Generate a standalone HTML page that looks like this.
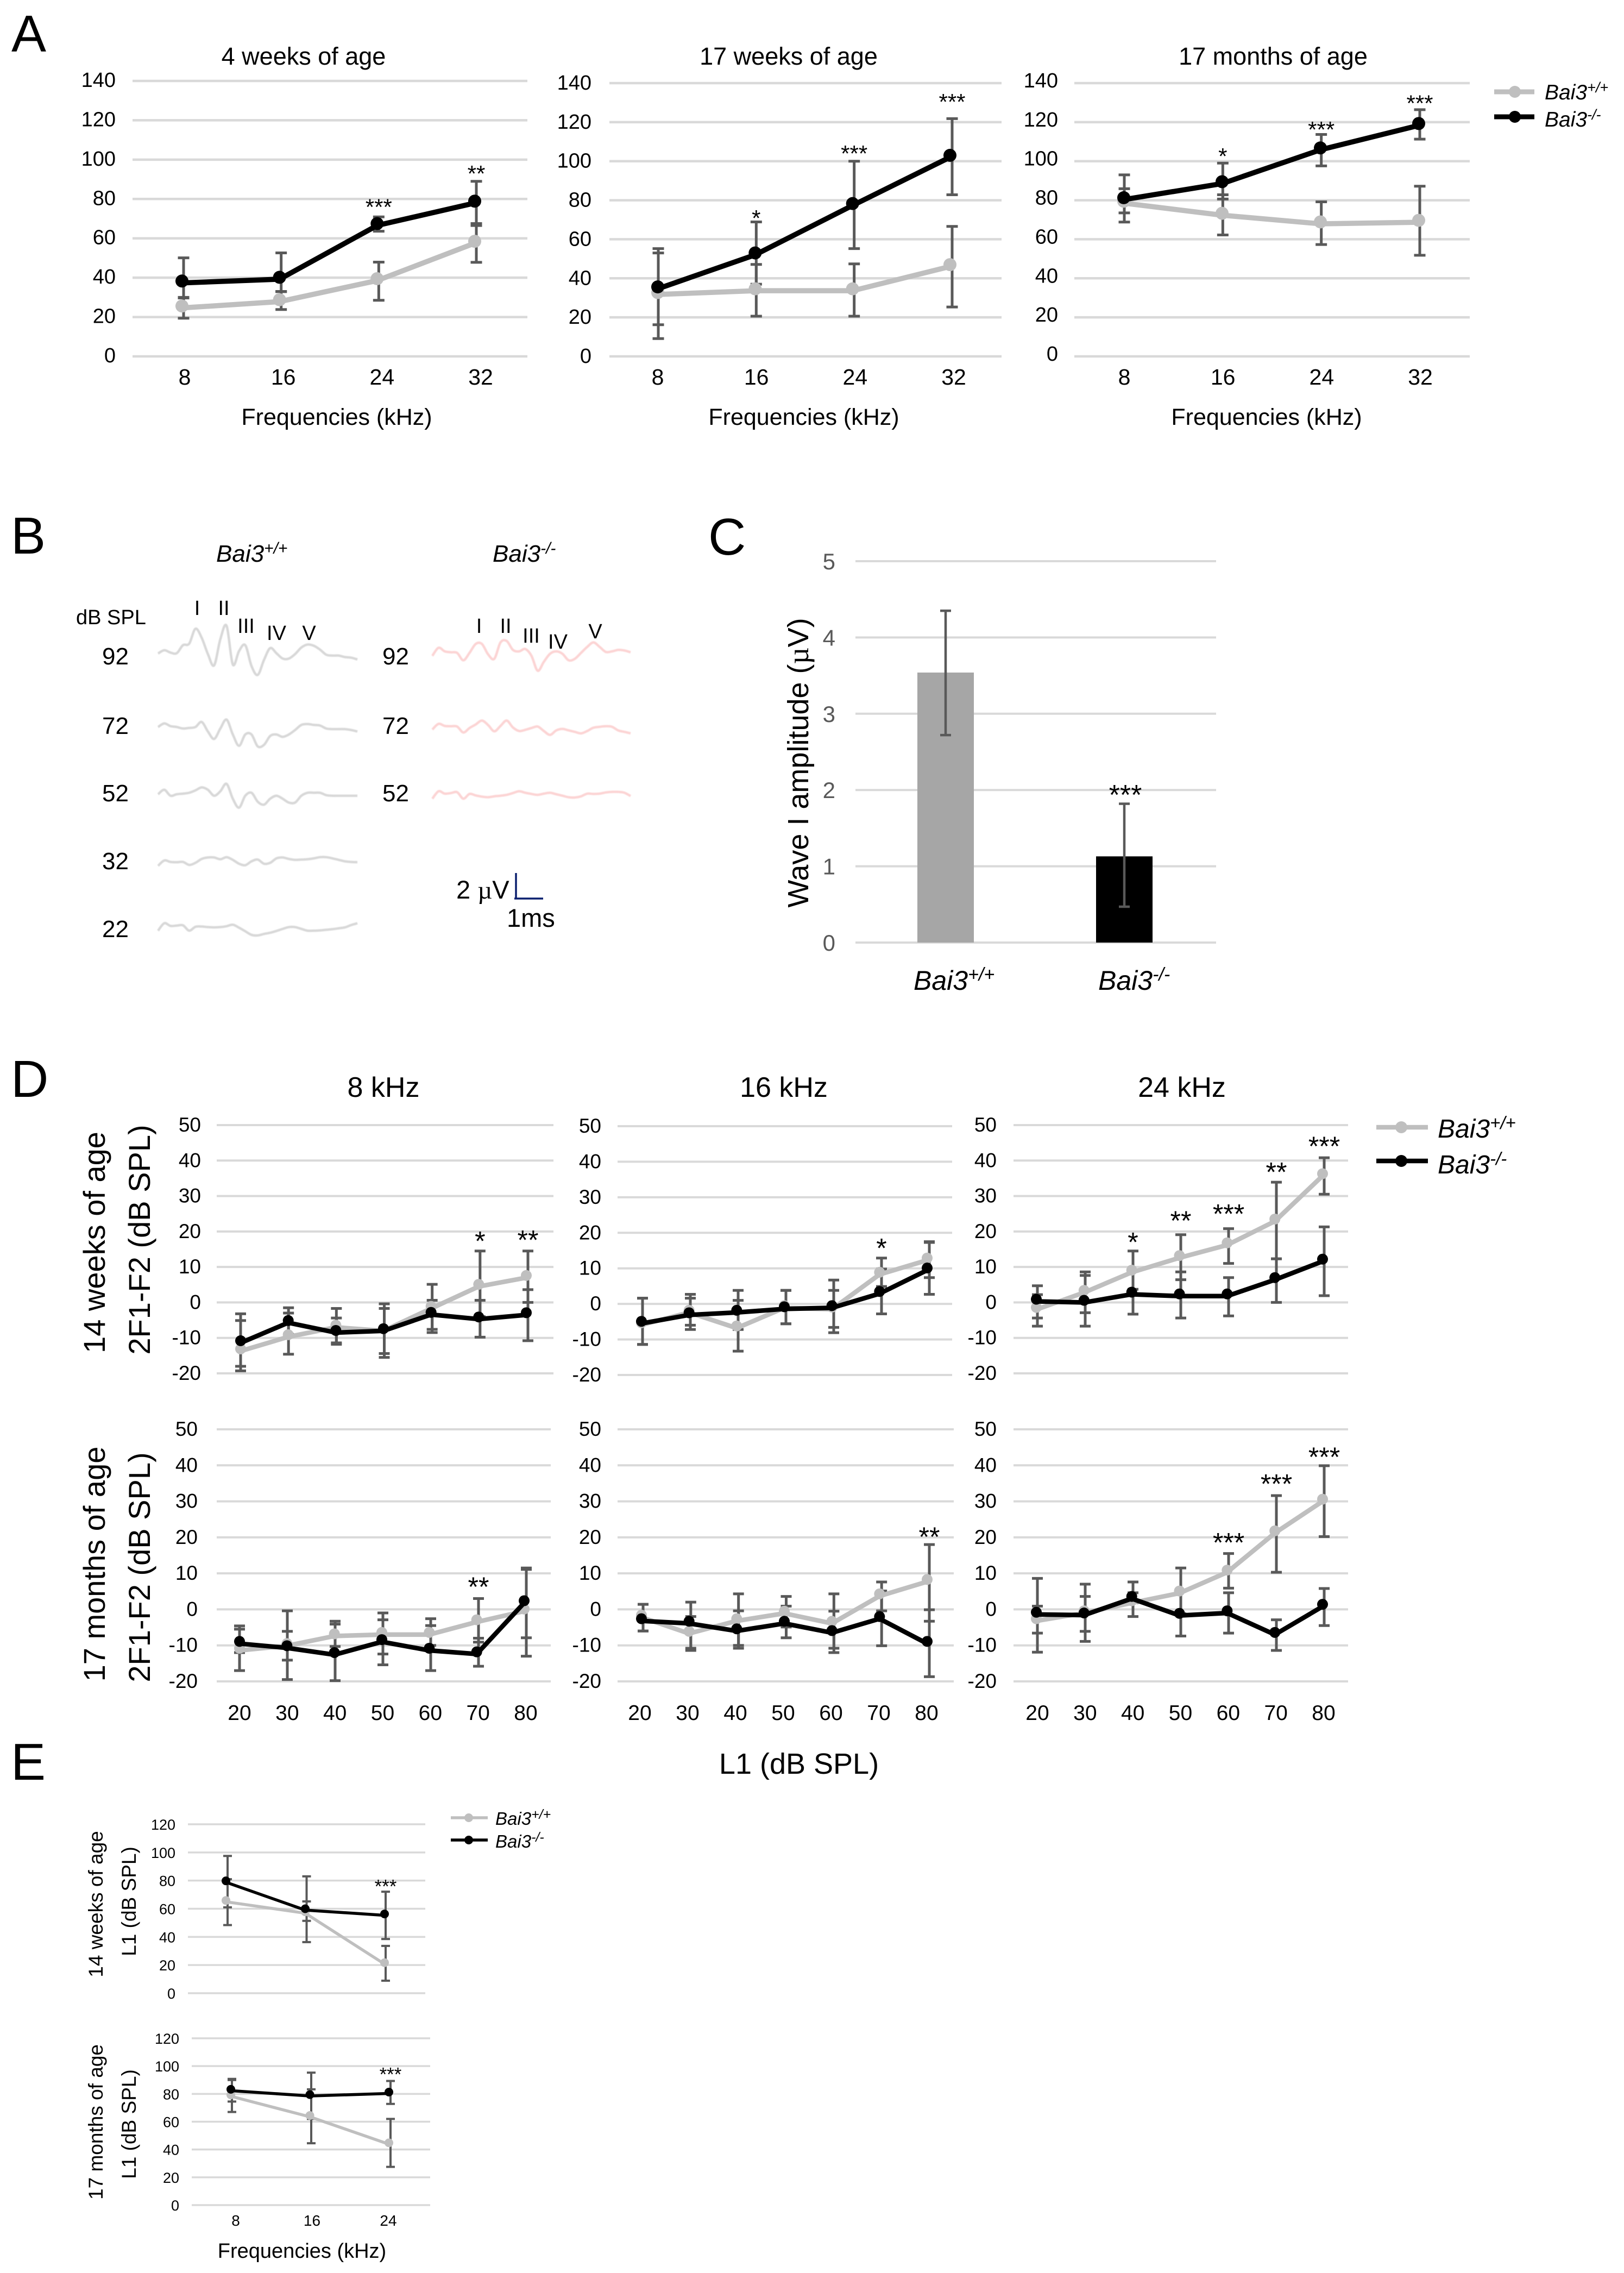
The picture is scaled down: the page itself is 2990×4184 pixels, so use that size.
<!DOCTYPE html>
<html lang="en">
<head>
<meta charset="utf-8">
<title>Bai3 auditory phenotype figure</title>
<style>
html,body{margin:0;padding:0;background:#fff;}
svg{display:block;font-family:"Liberation Sans",sans-serif;}
text{fill:#000;}
.it{font-style:italic;}
</style>
</head>
<body>
<svg id="figure" xmlns="http://www.w3.org/2000/svg" width="2990" height="4184" viewBox="0 0 2990 4184">
<rect width="2990" height="4184" fill="#fff"/>

<!-- panel letters -->
<text x="21" y="95" font-size="96">A</text>
<text x="20" y="1019" font-size="96">B</text>
<text x="1304" y="1021" font-size="96">C</text>
<text x="20" y="2019" font-size="96">D</text>
<text x="20" y="3276" font-size="96">E</text>

<!-- panel A text -->
<text x="559" y="119" font-size="45" text-anchor="middle">4 weeks of age</text>
<text x="1452" y="119" font-size="45" text-anchor="middle">17 weeks of age</text>
<text x="2344" y="119" font-size="45" text-anchor="middle">17 months of age</text>
<text x="620" y="782" font-size="43" text-anchor="middle">Frequencies (kHz)</text>
<text x="1480" y="782" font-size="43" text-anchor="middle">Frequencies (kHz)</text>
<text x="2332" y="782" font-size="43" text-anchor="middle">Frequencies (kHz)</text>
<g>
  <line x1="2751" x2="2825" y1="169" y2="169" stroke="#bfbfbf" stroke-width="9"/>
  <circle cx="2789" cy="169" r="11" fill="#bfbfbf"/>
  <text class="it" x="2844" y="183" font-size="39">Bai3<tspan dy="-13" font-size="27">+/+</tspan></text>
  <line x1="2751" x2="2825" y1="215" y2="215" stroke="#000" stroke-width="9"/>
  <circle cx="2789" cy="215" r="11" fill="#000"/>
  <text class="it" x="2844" y="233" font-size="39">Bai3<tspan dy="-13" font-size="27">-/-</tspan></text>
</g>

<!-- panel B text -->
<text class="it" x="398" y="1034" font-size="44">Bai3<tspan dy="-15" font-size="30">+/+</tspan></text>
<text class="it" x="907" y="1034" font-size="44">Bai3<tspan dy="-15" font-size="30">-/-</tspan></text>
<text x="140" y="1149" font-size="38">dB SPL</text>
<g font-size="44">
  <text x="188" y="1223">92</text>
  <text x="188" y="1351">72</text>
  <text x="188" y="1475">52</text>
  <text x="188" y="1600">32</text>
  <text x="188" y="1725">22</text>
  <text x="704" y="1223">92</text>
  <text x="704" y="1351">72</text>
  <text x="704" y="1475">52</text>
</g>
<g font-size="38" text-anchor="middle">
  <text x="363" y="1132">I</text>
  <text x="412" y="1132">II</text>
  <text x="453" y="1165">III</text>
  <text x="509" y="1178">IV</text>
  <text x="569" y="1178">V</text>
  <text x="882" y="1165">I</text>
  <text x="931" y="1165">II</text>
  <text x="978" y="1183">III</text>
  <text x="1027" y="1194">IV</text>
  <text x="1096" y="1175">V</text>
</g>
<g>
  <line x1="950" x2="950" y1="1607" y2="1654" stroke="#0a1f6e" stroke-width="3.5"/>
  <line x1="947" x2="1000" y1="1654" y2="1654" stroke="#0a1f6e" stroke-width="3.5"/>
  <text x="840" y="1654" font-size="47">2 <tspan font-family="'Liberation Serif',serif">µ</tspan>V</text>
  <text x="933" y="1706" font-size="47">1ms</text>
</g>

<!-- panel C text -->
<text transform="translate(1488,1404) rotate(-90)" font-size="54" text-anchor="middle">Wave I amplitude (<tspan font-family="'Liberation Serif',serif">µ</tspan>V)</text>

<!-- panel D text -->
<text x="706" y="2019" font-size="52" text-anchor="middle">8 kHz</text>
<text x="1443" y="2019" font-size="52" text-anchor="middle">16 kHz</text>
<text x="2176" y="2019" font-size="52" text-anchor="middle">24 kHz</text>
<text transform="translate(193,2287) rotate(-90)" font-size="56" text-anchor="middle">14 weeks of age</text>
<text transform="translate(276,2282) rotate(-90)" font-size="56" text-anchor="middle">2F1-F2 (dB SPL)</text>
<text transform="translate(193,2879) rotate(-90)" font-size="56" text-anchor="middle">17 months of age</text>
<text transform="translate(276,2885) rotate(-90)" font-size="56" text-anchor="middle">2F1-F2 (dB SPL)</text>
<text x="1471" y="3265" font-size="54" text-anchor="middle">L1 (dB SPL)</text>
<g>
  <line x1="2534" x2="2629" y1="2075" y2="2075" stroke="#bfbfbf" stroke-width="8.5"/>
  <circle cx="2580" cy="2075" r="11" fill="#bfbfbf"/>
  <text class="it" x="2647" y="2094" font-size="48">Bai3<tspan dy="-16" font-size="33">+/+</tspan></text>
  <line x1="2534" x2="2629" y1="2137" y2="2137" stroke="#000" stroke-width="8.5"/>
  <circle cx="2580" cy="2137" r="11" fill="#000"/>
  <text class="it" x="2647" y="2160" font-size="48">Bai3<tspan dy="-16" font-size="33">-/-</tspan></text>
</g>

<!-- panel E text -->
<text transform="translate(189,3505) rotate(-90)" font-size="37" text-anchor="middle">14 weeks of age</text>
<text transform="translate(250,3500) rotate(-90)" font-size="37" text-anchor="middle">L1 (dB SPL)</text>
<text transform="translate(189,3906) rotate(-90)" font-size="37" text-anchor="middle">17 months of age</text>
<text transform="translate(250,3910) rotate(-90)" font-size="37" text-anchor="middle">L1 (dB SPL)</text>
<text x="556" y="4156" font-size="38" text-anchor="middle">Frequencies (kHz)</text>
<g>
  <line x1="830" x2="898" y1="3346" y2="3346" stroke="#bfbfbf" stroke-width="5.5"/>
  <circle cx="863" cy="3346" r="8" fill="#bfbfbf"/>
  <text class="it" x="912" y="3359" font-size="33">Bai3<tspan dy="-11" font-size="25">+/+</tspan></text>
  <line x1="830" x2="898" y1="3387" y2="3387" stroke="#000" stroke-width="5.5"/>
  <circle cx="863" cy="3387" r="8" fill="#000"/>
  <text class="it" x="912" y="3401" font-size="33">Bai3<tspan dy="-11" font-size="25">-/-</tspan></text>
</g>
</svg>

<script>
/* ---------- shared categories and tick labels ---------- */
const freqCats = ['8','16','24','32'];
const freqCatsE = ['8','16','24'];
const levelCats = ['20','30','40','50','60','70','80'];
const aTicks = [0,20,40,60,80,100,120,140];
const dTicks = [-20,-10,0,10,20,30,40,50];
const eTicks = [0,20,40,60,80,100,120];
const cTicks = [0,1,2,3,4,5];

/* ---------- panel A ---------- */
const a1WtMean = [25.6,28.8,39.5,58.5];
const a1WtHi   = [30,33,47.9,66.5];
const a1WtLo   = [19.4,23.8,28.5,47.8];
const a1KoMean = [38.3,40.2,67.5,78.9];
const a1KoHi   = [50.1,52.6,70.9,89];
const a1KoLo   = [29.7,32.9,63.6,67.5];
const a1Stars  = ['','','***','**'];
const a1StarAt = [0,0,77.9,95];

const a2WtMean = [32.7,34.6,34.6,47];
const a2WtHi   = [53,47.1,47.4,66.6];
const a2WtLo   = [9.1,20.6,20.6,25.3];
const a2KoMean = [35.6,53,78.3,103];
const a2KoHi   = [55.2,68.9,100,121.8];
const a2KoLo   = [16.2,37,55.2,82.8];
const a2Stars  = ['','*','***','***'];
const a2StarAt = [0,72.9,106,132.5];

const a3WtMean = [79.5,73.3,68.9,69.7];
const a3WtHi   = [85.9,82.8,79.2,87.2];
const a3WtLo   = [73.5,62.2,57.3,51.8];
const a3KoMean = [81.3,89.5,106.8,119.3];
const a3KoHi   = [93,99,113.7,126.4];
const a3KoLo   = [68.8,80.6,97.6,111.3];
const a3Stars  = ['','*','***','***'];
const a3StarAt = [0,104.6,118.3,131.8];

/* ---------- panel B traces (amplitude samples, arbitrary units) ---------- */
const wt92Amp = [2,13,5,3,30,35,85,55,0,-38,50,95,-35,10,30,-40,-70,-20,20,3,-15,-15,0,22,32,28,15,-2,-5,-5,-10,-12,-18];
const wt72Amp = [5,17,8,5,0,2,5,22,-10,-35,0,30,-20,-58,-20,-20,-60,-55,-25,-20,-28,-20,-5,12,15,12,10,0,-2,-2,-2,-5,-10];
const wt52Amp = [0,15,-5,0,2,5,13,23,15,-5,10,35,-15,-45,-5,5,-25,-35,-15,-5,-15,-28,-28,-5,5,5,5,-3,-5,-5,-5,-5,-5];
const wt32Amp = [-15,3,-2,-3,-2,-12,-5,8,13,13,7,14,5,-8,-13,0,6,-8,-5,10,13,8,5,6,7,10,14,14,10,5,0,-2,-3];
const wt22Amp = [-13,12,3,4,5,-13,0,1,-1,-2,-1,2,7,-3,-15,-27,-29,-24,-20,-14,-7,-1,-1,-7,-13,-13,-12,-10,-8,-5,-2,6,12];
const ko92Amp = [-15,12,0,-3,-5,-30,-5,25,25,-10,-25,30,35,5,0,8,-15,-65,-35,-8,0,-8,-30,-25,-5,15,30,15,-2,0,5,3,-3];
const ko72Amp = [-7,12,5,4,3,-17,-2,10,23,8,-13,5,23,0,-12,-8,-2,3,-12,-25,-10,-5,-10,-15,-20,-12,-1,2,4,2,-10,-15,-20];
const ko52Amp = [-15,10,2,4,7,-15,1,-4,-8,-10,-7,-5,-2,4,10,5,1,-2,2,5,0,-5,-10,-11,-7,2,1,2,6,8,8,5,-6];

/* ---------- panel C ---------- */
const cCats = ['+/+','-/-'];
const cMeans = [3.54,1.13];
const cHi = [4.35,1.82];
const cLo = [2.72,0.47];
const cStars = ['','***'];
const cStarAt = [0,2.0];

/* ---------- panel D: 14 weeks ---------- */
const d8tWtMean = [-13.1,-9.1,-6.4,-7.4,-1.1,5.1,7.6];
const d8tWtHi   = [-5.1,-3,-1.7,-1.7,5.1,14.5,14.5];
const d8tWtLo   = [-19.3,-14.6,-11.8,-15.5,-7.6,-4,0];
const d8tKoMean = [-10.8,-5.1,-7.9,-7.4,-2.8,-4.1,-2.9];
const d8tKoHi   = [-3.2,-1.5,-4.4,-0.4,0.6,0.6,3.6];
const d8tKoLo   = [-18,-9,-11.4,-14.4,-8.5,-9.8,-10.8];
const d8tStars  = ['','','','','','*','**'];
const d8tStarAt = [0,0,0,0,0,18.7,19];

const d16tWtMean = [-5.3,-1.8,-6.2,-0.5,-0.9,8.9,12.9];
const d16tWtHi   = [1.6,2.7,1,3.8,6.7,12.9,17.5];
const d16tWtLo   = [-11.4,-6,-13.3,-5.6,-8.1,4.9,7.4];
const d16tKoMean = [-4.9,-2.5,-1.8,-0.8,-0.5,3.5,10.1];
const d16tKoHi   = [1.6,1.6,3.8,3.8,3.8,9.8,17.3];
const d16tKoLo   = [-11.4,-7.2,-7.2,-5.6,-6.6,-2.8,2.7];
const d16tStars  = ['','','','','','*',''];
const d16tStarAt = [0,0,0,0,0,17.1,0];

const d24tWtMean = [-1.4,3.4,9.1,13.2,16.8,23.5,36.3];
const d24tWtHi   = [2.2,8.6,14.5,19.1,20.8,33.9,40.8];
const d24tWtLo   = [-6.7,-2.9,3.7,6.4,11,12.3,30.5];
const d24tKoMean = [0.9,0.6,2.9,2.4,2.4,7,12.2];
const d24tKoHi   = [4.7,7.6,9,8.6,7,12.3,21.3];
const d24tKoLo   = [-4.4,-6.7,-3.3,-4.4,-3.8,0,1.9];
const d24tStars  = ['','','*','**','***','**','***'];
const d24tStarAt = [0,0,18.4,24.4,26.3,38.1,45.4];

/* ---------- panel D: 17 months ---------- */
const d8bWtMean = [-10.8,-9.5,-6.8,-6.4,-6.4,-2.9,0.1];
const d8bWtHi   = [-4.6,-0.4,-3.3,-1,-2.6,3,11.1];
const d8bWtLo   = [-17,-19.5,-10.3,-12.4,-10,-9.1,-13];
const d8bKoMean = [-8.9,-10.1,-12,-8.4,-10.8,-11.8,2.4];
const d8bKoHi   = [-5.5,-6.1,-4.1,-2.9,-4.5,-8,11.5];
const d8bKoLo   = [-12,-14.1,-19.8,-15.4,-17,-15.8,-7.9];
const d8bStars  = ['','','','','','**',''];
const d8bStarAt = [0,0,0,0,0,7.6,0];

const d16bWtMean = [-1.6,-6.1,-2.6,-0.5,-3.3,4.3,8.3];
const d16bWtHi   = [1.4,-2,4.3,3.6,4.3,7.6,18];
const d16bWtLo   = [-6,-11.4,-10,-4.9,-10.8,-0.4,-3.3];
const d16bKoMean = [-2.6,-3.3,-5.4,-3.3,-5.9,-2,-8.9];
const d16bKoHi   = [1.4,2,-0.4,0.9,-0.5,5.1,-0.1];
const d16bKoLo   = [-6,-10.8,-10.8,-7.9,-12,-10.1,-18.7];
const d16bStars  = ['','','','','','','**'];
const d16bStarAt = [0,0,0,0,0,0,21.5];

const d24bWtMean = [-2.6,-0.4,2.4,5.1,10.9,21.8,30.6];
const d24bWtHi   = [0.9,3.6,4.6,11.5,15.5,31.6,39.9];
const d24bWtLo   = [-6.6,-6.1,-2,-1.2,5.9,10.3,20.2];
const d24bKoMean = [-0.8,-1,3.6,-1.1,-0.4,-6.4,1.4];
const d24bKoHi   = [8.6,7,7.6,5,4.6,-2.9,5.8];
const d24bKoLo   = [-11.9,-8.9,1.8,-7.4,-6.6,-11.4,-4.5];
const d24bStars  = ['','','','','***','***','***'];
const d24bStarAt = [0,0,0,0,19.9,36.2,43.7];

/* ---------- panel E ---------- */
const e1WtMean = [65.9,57.8,21.7];
const e1WtHi   = [81,65.2,33.6];
const e1WtLo   = [48.4,51.4,8.9];
const e1KoMean = [79.8,60,56.3];
const e1KoHi   = [97.5,83,72.1];
const e1KoLo   = [61,36.3,38.5];
const e1Stars  = ['','','***'];
const e1StarAt = [0,0,78.3];

const e2WtMean = [79.3,64.5,44.8];
const e2WtHi   = [90,83.3,62];
const e2WtLo   = [67,44.5,27.5];
const e2KoMean = [83.3,79.5,81.3];
const e2KoHi   = [90.8,95.3,89.3];
const e2KoLo   = [74.5,62,72.8];
const e2Stars  = ['','','***'];
const e2StarAt = [0,0,96.5];

/* ---------- helpers ---------- */
const NS = 'http://www.w3.org/2000/svg';
const fig = document.getElementById('figure');
const GRID = '#d9d9d9', ERR = '#595959', WT = '#bfbfbf', KO = '#000000';

function mk(parent, tag, attrs, txt) {
  const el = document.createElementNS(NS, tag);
  for (const k in attrs) el.setAttribute(k, attrs[k]);
  if (txt !== undefined) el.textContent = txt;
  parent.appendChild(el);
  return el;
}
function linear(d0, d1, r0, r1) {
  return v => r0 + (v - d0) * (r1 - r0) / (d1 - d0);
}
function catScale(range, n) {
  return i => range[0] + i * (range[1] - range[0]) / (n - 1);
}

function drawSeries(g, name, c, xP, y, mean, color) {
  const pts = mean.map((v, i) => xP(i) + ',' + (y(v) + c.s.lineDy)).join(' ');
  const pl = mk(g, 'polyline', {points: pts, fill: 'none', stroke: color, 'stroke-width': c.s.line, 'stroke-linejoin': 'round'});
  
  
  mean.forEach((v, i) => {
    const dot = mk(g, 'circle', {cx: xP(i), cy: y(v), r: c.s.r, fill: color});
    
    
  });
}
function drawErrors(g, name, c, xE, y, hi, lo) {
  hi.forEach((h, i) => {
    const x = xE(i), yh = y(h), yl = y(lo[i]), w = c.s.cap / 2;
    const stem = mk(g, 'line', {x1: x, x2: x, y1: yh, y2: yl, stroke: ERR, 'stroke-width': c.s.err});
    
    
    const capT = mk(g, 'line', {x1: x - w, x2: x + w, y1: yh, y2: yh, stroke: ERR, 'stroke-width': c.s.err});
    
    
    const capB = mk(g, 'line', {x1: x - w, x2: x + w, y1: yl, y2: yl, stroke: ERR, 'stroke-width': c.s.err});
    
    
  });
}

function drawLineChart(c) {
  const g = mk(fig, 'g', {});
  
  
  const n = c.wt.length;
  const y = linear(c.vMin, c.vMax, c.yBottom, c.yTop);
  const xP = catScale(c.px, n), xE = catScale(c.ex, n), xT = catScale(c.tx, n);
  const tickDy = c.tickDy === undefined ? c.s.tickDy : c.tickDy;
  c.ticks.forEach(t => {
    const gl = mk(g, 'line', {x1: c.left, x2: c.right, y1: y(t), y2: y(t), stroke: GRID, 'stroke-width': c.s.grid});
    
    
    const lb = mk(g, 'text', {x: c.tickRight, y: y(t) + tickDy, 'font-size': c.s.tick, 'text-anchor': 'end'}, String(t));
    
    
  });
  if (c.xTickY) {
    c.cats.forEach((t, i) => {
      const lb = mk(g, 'text', {x: xT(i), y: c.xTickY, 'font-size': c.s.xt, 'text-anchor': 'middle'}, t);
      
      
    });
  }
  drawErrors(g, 'wt', c, xE, y, c.wtHi, c.wtLo);
  drawErrors(g, 'ko', c, xE, y, c.koHi, c.koLo);
  drawSeries(g, 'wt', c, xP, y, c.wt, WT);
  drawSeries(g, 'ko', c, xP, y, c.ko, KO);
  c.stars.forEach((s, i) => {
    if (!s) return;
    const st = mk(g, 'text', {x: xE(i), y: y(c.starAt[i]) + c.s.star * 0.52, 'font-size': c.s.star, 'text-anchor': 'middle'}, s);
    
    
  });
}

/* smooth path through evenly spaced samples */
function drawTrace(name, amps, xStart, xEnd, base, color) {
  const x = catScale([xStart, xEnd], amps.length);
  const unit = 1 / 1.823;
  const p = amps.map((a, i) => [x(i), base - a * unit]);
  let d = 'M' + p[0][0] + ' ' + p[0][1];
  for (let i = 0; i < p.length - 1; i++) {
    const p0 = p[Math.max(i - 1, 0)], p1 = p[i], p2 = p[i + 1], p3 = p[Math.min(i + 2, p.length - 1)];
    const c1x = p1[0] + (p2[0] - p0[0]) / 6, c1y = p1[1] + (p2[1] - p0[1]) / 6;
    const c2x = p2[0] - (p3[0] - p1[0]) / 6, c2y = p2[1] - (p3[1] - p1[1]) / 6;
    d += 'C' + c1x + ' ' + c1y + ' ' + c2x + ' ' + c2y + ' ' + p2[0] + ' ' + p2[1];
  }
  const tr = mk(fig, 'path', {d: d, fill: 'none', stroke: color, 'stroke-width': 4.5, 'stroke-linejoin': 'round', style: 'filter:blur(0.8px)'});
  
  
}

/* ---------- styles per panel ---------- */
const styleA = {grid:4.5, line:9.5, r:12, err:5, cap:21, tick:38, xt:41, star:42, lineDy:3.5, tickDy:12};
const styleD = {grid:4, line:8.5, r:10, err:5, cap:20, tick:37, xt:39, star:50, lineDy:4, tickDy:12};
const styleE = {grid:3.5, line:5.5, r:8, err:4, cap:16, tick:27, xt:28, star:35, lineDy:2.5, tickDy:10};

/* ---------- panel A charts ---------- */
drawLineChart({name:'chart-a-4-weeks', s:styleA, cats:freqCats, ticks:aTicks, vMin:0, vMax:140, yBottom:656, yTop:149, left:244, right:971, tickRight:213, tickDy:11, px:[335,874], ex:[338,877], tx:[340,885], xTickY:708,
  wt:a1WtMean, wtHi:a1WtHi, wtLo:a1WtLo, ko:a1KoMean, koHi:a1KoHi, koLo:a1KoLo, stars:a1Stars, starAt:a1StarAt});
drawLineChart({name:'chart-a-17-weeks', s:styleA, cats:freqCats, ticks:aTicks, vMin:0, vMax:140, yBottom:656, yTop:153, left:1122, right:1844, tickRight:1089, px:[1211,1749], ex:[1212,1753], tx:[1211,1756], xTickY:708,
  wt:a2WtMean, wtHi:a2WtHi, wtLo:a2WtLo, ko:a2KoMean, koHi:a2KoHi, koLo:a2KoLo, stars:a2Stars, starAt:a2StarAt});
drawLineChart({name:'chart-a-17-months', s:styleA, cats:freqCats, ticks:aTicks, vMin:0, vMax:140, yBottom:656, yTop:153, left:1978, right:2706, tickRight:1948, tickDy:8, px:[2069,2612], ex:[2070,2614], tx:[2070,2615], xTickY:708,
  wt:a3WtMean, wtHi:a3WtHi, wtLo:a3WtLo, ko:a3KoMean, koHi:a3KoHi, koLo:a3KoLo, stars:a3Stars, starAt:a3StarAt});

/* ---------- panel B traces ---------- */
drawTrace('abr-trace-wt-92', wt92Amp, 291, 658, 1204, '#d8d8d8');
drawTrace('abr-trace-wt-72', wt72Amp, 291, 658, 1341, '#d8d8d8');
drawTrace('abr-trace-wt-52', wt52Amp, 291, 658, 1462, '#d8d8d8');
drawTrace('abr-trace-wt-32', wt32Amp, 291, 658, 1585.5, '#d8d8d8');
drawTrace('abr-trace-wt-22', wt22Amp, 291, 658, 1706, '#d8d8d8');
drawTrace('abr-trace-ko-92', ko92Amp, 796, 1161, 1199, '#fcd4d4');
drawTrace('abr-trace-ko-72', ko72Amp, 796, 1161, 1339, '#fcd4d4');
drawTrace('abr-trace-ko-52', ko52Amp, 796, 1161, 1462, '#fcd4d4');

/* ---------- panel C bar chart ---------- */
(function () {
  const g = mk(fig, 'g', {});
  
  
  const y = linear(0, 5, 1735, 1033);
  const x = catScale([1741, 2070], cMeans.length);
  cTicks.forEach(t => {
    const gl = mk(g, 'line', {x1: 1575, x2: 2239, y1: y(t), y2: y(t), stroke: GRID, 'stroke-width': 4});
    
    
    const lb = mk(g, 'text', {x: 1538, y: y(t) + 15, 'font-size': 42, 'text-anchor': 'end', style: 'fill:#595959'}, String(t));
    
    
  });
  const barColors = ['#a6a6a6', '#000000'];
  cMeans.forEach((v, i) => {
    const bar = mk(g, 'rect', {x: x(i) - 52, y: y(v), width: 104, height: y(0) - y(v), fill: barColors[i]});
    
    
    const stem = mk(g, 'line', {x1: x(i), x2: x(i), y1: y(cHi[i]), y2: y(cLo[i]), stroke: ERR, 'stroke-width': 4.5});
    
    
    const capT = mk(g, 'line', {x1: x(i) - 10, x2: x(i) + 10, y1: y(cHi[i]), y2: y(cHi[i]), stroke: ERR, 'stroke-width': 4.5});
    
    
    const capB = mk(g, 'line', {x1: x(i) - 10, x2: x(i) + 10, y1: y(cLo[i]), y2: y(cLo[i]), stroke: ERR, 'stroke-width': 4.5});
    
    
    const lb = mk(g, 'text', {x: x(i) - 59 + i * 11, y: 1822, 'font-size': 50, 'font-style': 'italic'}, 'Bai3');
    
    
    mk(lb, 'tspan', {dy: -17, 'font-size': 34}, cCats[i]);
    if (cStars[i]) {
      const st = mk(g, 'text', {x: x(i) + 2, y: y(cStarAt[i]) + 27, 'font-size': 52, 'text-anchor': 'middle'}, cStars[i]);
      
      
    }
  });
})();

/* ---------- panel D charts ---------- */
drawLineChart({name:'chart-d-8khz-14-weeks', s:styleD, cats:levelCats, ticks:dTicks, vMin:-20, vMax:50, yBottom:2528, yTop:2071, left:399, right:1019, tickRight:370, px:[443,969], ex:[443,972], tx:[441,968], xTickY:0,
  wt:d8tWtMean, wtHi:d8tWtHi, wtLo:d8tWtLo, ko:d8tKoMean, koHi:d8tKoHi, koLo:d8tKoLo, stars:d8tStars, starAt:d8tStarAt});
drawLineChart({name:'chart-d-16khz-14-weeks', s:styleD, cats:levelCats, ticks:dTicks, vMin:-20, vMax:50, yBottom:2531, yTop:2073, left:1137, right:1753, tickRight:1107, px:[1181,1707], ex:[1183,1711], tx:[1178,1706], xTickY:0,
  wt:d16tWtMean, wtHi:d16tWtHi, wtLo:d16tWtLo, ko:d16tKoMean, koHi:d16tKoHi, koLo:d16tKoLo, stars:d16tStars, starAt:d16tStarAt});
drawLineChart({name:'chart-d-24khz-14-weeks', s:styleD, cats:levelCats, ticks:dTicks, vMin:-20, vMax:50, yBottom:2528, yTop:2071, left:1866, right:2482, tickRight:1835, px:[1908,2435], ex:[1910,2438], tx:[1910,2437], xTickY:0,
  wt:d24tWtMean, wtHi:d24tWtHi, wtLo:d24tWtLo, ko:d24tKoMean, koHi:d24tKoHi, koLo:d24tKoLo, stars:d24tStars, starAt:d24tStarAt});
drawLineChart({name:'chart-d-8khz-17-months', s:styleD, cats:levelCats, ticks:dTicks, vMin:-20, vMax:50, yBottom:3095, yTop:2631, left:399, right:1014, tickRight:364, px:[441,965], ex:[441,969], tx:[441,968], xTickY:3166,
  wt:d8bWtMean, wtHi:d8bWtHi, wtLo:d8bWtLo, ko:d8bKoMean, koHi:d8bKoHi, koLo:d8bKoLo, stars:d8bStars, starAt:d8bStarAt});
drawLineChart({name:'chart-d-16khz-17-months', s:styleD, cats:levelCats, ticks:dTicks, vMin:-20, vMax:50, yBottom:3095, yTop:2631, left:1137, right:1756, tickRight:1107, px:[1181,1707], ex:[1184,1711], tx:[1178,1706], xTickY:3166,
  wt:d16bWtMean, wtHi:d16bWtHi, wtLo:d16bWtLo, ko:d16bKoMean, koHi:d16bKoHi, koLo:d16bKoLo, stars:d16bStars, starAt:d16bStarAt});
drawLineChart({name:'chart-d-24khz-17-months', s:styleD, cats:levelCats, ticks:dTicks, vMin:-20, vMax:50, yBottom:3095, yTop:2631, left:1866, right:2482, tickRight:1835, px:[1908,2435], ex:[1910,2438], tx:[1910,2437], xTickY:3166,
  wt:d24bWtMean, wtHi:d24bWtHi, wtLo:d24bWtLo, ko:d24bKoMean, koHi:d24bKoHi, koLo:d24bKoLo, stars:d24bStars, starAt:d24bStarAt});

/* ---------- panel E charts ---------- */
drawLineChart({name:'chart-e-14-weeks', s:styleE, cats:freqCatsE, ticks:eTicks, vMin:0, vMax:120, yBottom:3669, yTop:3358, left:346, right:783, tickRight:323, px:[416,708], ex:[419,710], tx:[434,715], xTickY:0,
  wt:e1WtMean, wtHi:e1WtHi, wtLo:e1WtLo, ko:e1KoMean, koHi:e1KoHi, koLo:e1KoLo, stars:e1Stars, starAt:e1StarAt});
drawLineChart({name:'chart-e-17-months', s:styleE, cats:freqCatsE, ticks:eTicks, vMin:0, vMax:120, yBottom:4059, yTop:3752, left:353, right:792, tickRight:330, px:[425,716], ex:[427,719], tx:[434,715], xTickY:4097,
  wt:e2WtMean, wtHi:e2WtHi, wtLo:e2WtLo, ko:e2KoMean, koHi:e2KoHi, koLo:e2KoLo, stars:e2Stars, starAt:e2StarAt});
</script>
</body>
</html>
